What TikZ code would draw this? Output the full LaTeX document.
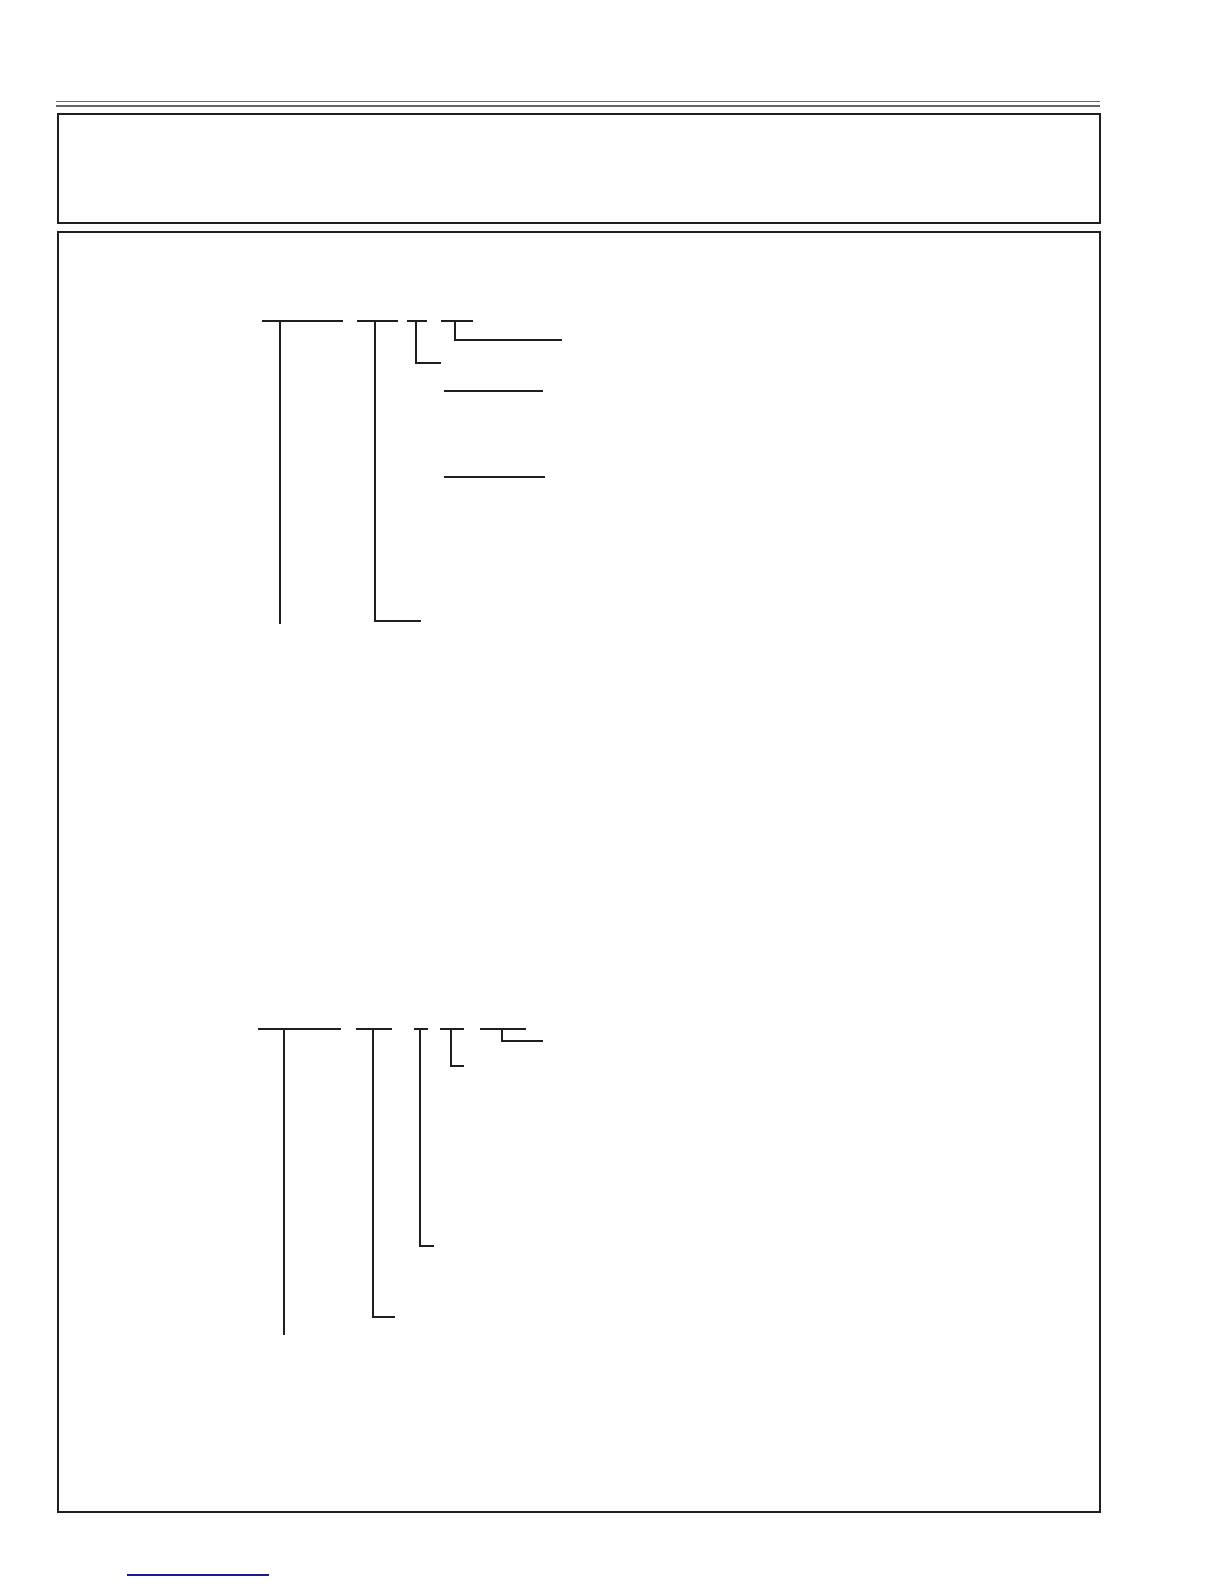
\documentclass[tikz,border=0pt]{standalone}
\usetikzlibrary{positioning}
\definecolor{rulegray}{HTML}{666666}
\definecolor{linkblue}{HTML}{1A1A99}
\tikzset{
  frame/.style={line width=2.6pt, draw=black!88},
  stem/.style={line width=2.3pt, draw=black!88},
  thinrule/.style={line width=1.1pt, draw=black!88},
}
\begin{document}
\begin{tikzpicture}[x=1pt,y=-1pt]
\useasboundingbox (0,0) rectangle (1224,1584);
%% header rules and frames
\draw[rulegray, line width=1pt] (56,102) -- (1100,102);
\draw[rulegray, line width=2.7pt] (56,106) -- (1100,106);
\draw[frame] (58,114) rectangle (1100,223);
\draw[frame] (58,232) rectangle (1100,1512);
%% first tree
\coordinate (a1) at (280,321);
\coordinate (a1e) at (280,624);
\coordinate (a2) at (375,321);
\coordinate (a2e) at (375,621);
\coordinate (a2f) at (421,621);
\coordinate (a3) at (416,321);
\coordinate (a3e) at (416,363);
\coordinate (a3f) at (441,363);
\coordinate (a4) at (455,321);
\coordinate (a4e) at (455,340);
\coordinate (a4f) at (562,340);
\draw[stem] (262,321) -- (343,321);
\draw[stem] (357,321) -- (398,321);
\draw[stem] (407,321) -- (427,321);
\draw[stem] (441,321) -- (473,321);
\draw[stem] (a1) -- (a1e);
\draw[stem] (a2) -- (a2e) -- (a2f);
\draw[stem] (a3) -- (a3e) -- (a3f);
\draw[stem] (a4) -- (a4e) -- (a4f);
\draw[thinrule] (444,391) -- (543,391);
\draw[thinrule] (444,477) -- (545,477);
%% second tree
\coordinate (b1) at (284,1029);
\coordinate (b1e) at (284,1335);
\coordinate (b2) at (373,1029);
\coordinate (b2e) at (373,1317);
\coordinate (b2f) at (395,1317);
\coordinate (b3) at (420,1029);
\coordinate (b3e) at (420,1246);
\coordinate (b3f) at (434,1246);
\coordinate (b4) at (451,1029);
\coordinate (b4e) at (451,1066);
\coordinate (b4f) at (464,1066);
\coordinate (b5) at (502,1029);
\coordinate (b5e) at (502,1041);
\coordinate (b5f) at (543,1041);
\draw[stem] (258,1029) -- (341,1029);
\draw[stem] (356,1029) -- (392,1029);
\draw[stem] (414,1029) -- (428,1029);
\draw[stem] (440,1029) -- (464,1029);
\draw[stem] (480,1029) -- (526,1029);
\draw[stem] (b1) -- (b1e);
\draw[stem] (b2) -- (b2e) -- (b2f);
\draw[stem] (b3) -- (b3e) -- (b3f);
\draw[stem] (b4) -- (b4e) -- (b4f);
\draw[stem] (b5) -- (b5e) -- (b5f);
%% footer link rule
\draw[linkblue, line width=1.3pt] (127,1575) -- (269,1575);
\end{tikzpicture}
\end{document}
